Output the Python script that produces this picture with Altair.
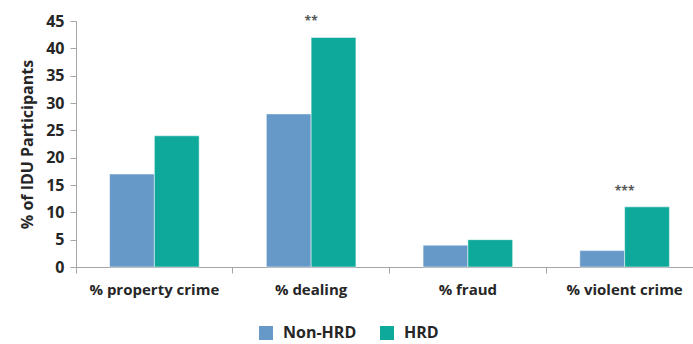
import altair as alt
import pandas as pd

categories = ["% property crime", "% dealing", "% fraud", "% violent crime"]
non_hrd = [17, 28, 4, 3]
hrd = [24, 42, 5, 11]
groups = ["Non-HRD", "HRD"]
stars_cat = ["% dealing", "% violent crime"]
stars_val = [42, 11]
stars_txt = ["**", "***"]
y_ticks = [0, 5, 10, 15, 20, 25, 30, 35, 40, 45]

rows = []
for c, a, b in zip(categories, non_hrd, hrd):
    rows.append({"cat": c, "grp": "Non-HRD", "val": a})
    rows.append({"cat": c, "grp": "HRD", "val": b})
df = pd.DataFrame(rows)
sdf = pd.DataFrame({"cat": stars_cat, "val": stars_val, "txt": stars_txt})

FONT = "Open Sans"
xscale = alt.Scale(domain=categories, range=[0, 627], paddingInner=0, paddingOuter=0)
yscale = alt.Scale(domain=[0, 45], nice=False)

yaxis = alt.Axis(title="% of IDU Participants", values=y_ticks,
                 labelOverlap=False,
                 grid=False, tickSize=6, tickColor="#a6a6a6", domainColor="#a6a6a6",
                 labelPadding=6, labelFontSize=16, labelFontWeight="bold",
                 labelColor="#262626", labelFont=FONT,
                 titleFontSize=16, titleFontWeight="bold", titleColor="#262626",
                 titleFont=FONT, titlePadding=10)
xaxis = alt.Axis(title=None, labelAngle=0, bandPosition=0, ticks=True,
                 tickSize=6, tickColor="#a6a6a6", domainColor="#a6a6a6",
                 labelPadding=9, labelFontSize=15, labelFontWeight="bold",
                 labelColor="#262626", labelFont=FONT)

bars = alt.Chart(df).mark_bar(stroke="white", strokeWidth=0.5).encode(
    x=alt.X("cat:N", sort=categories, scale=xscale, axis=xaxis),
    xOffset=alt.XOffset("grp:N", sort=groups,
                        scale=alt.Scale(domain=groups, paddingInner=0, paddingOuter=0.75)),
    y=alt.Y("val:Q", scale=yscale, axis=yaxis),
    color=alt.Color("grp:N", sort=groups,
                    scale=alt.Scale(domain=groups, range=["#6699c8", "#0fa99b"]),
                    legend=alt.Legend(title=None, orient="none", legendX=182, legendY=304,
                                      direction="horizontal", columns=2, columnPadding=22,
                                      symbolType="square", symbolSize=196, symbolStrokeWidth=0,
                                      labelFontSize=16, labelFontWeight="bold",
                                      labelColor="#262626", labelFont=FONT, labelOffset=9)),
)

stars = alt.Chart(sdf).mark_text(fontSize=12, font=FONT, color="#555555", fontWeight="bold",
                                 baseline="alphabetic", dy=-12).encode(
    x=alt.X("cat:N", sort=categories, scale=xscale, axis=xaxis),
    y=alt.Y("val:Q", scale=yscale, axis=yaxis),
    text="txt:N",
)

chart = alt.layer(bars, stars).properties(
    width=617, height=246,
    autosize=alt.AutoSizeParams(type="none"),
    padding={"left": 76, "top": 21, "right": 0, "bottom": 77},
).configure_view(stroke=None)

chart.save("out.html", embed_options={"renderer": "svg", "actions": False})
